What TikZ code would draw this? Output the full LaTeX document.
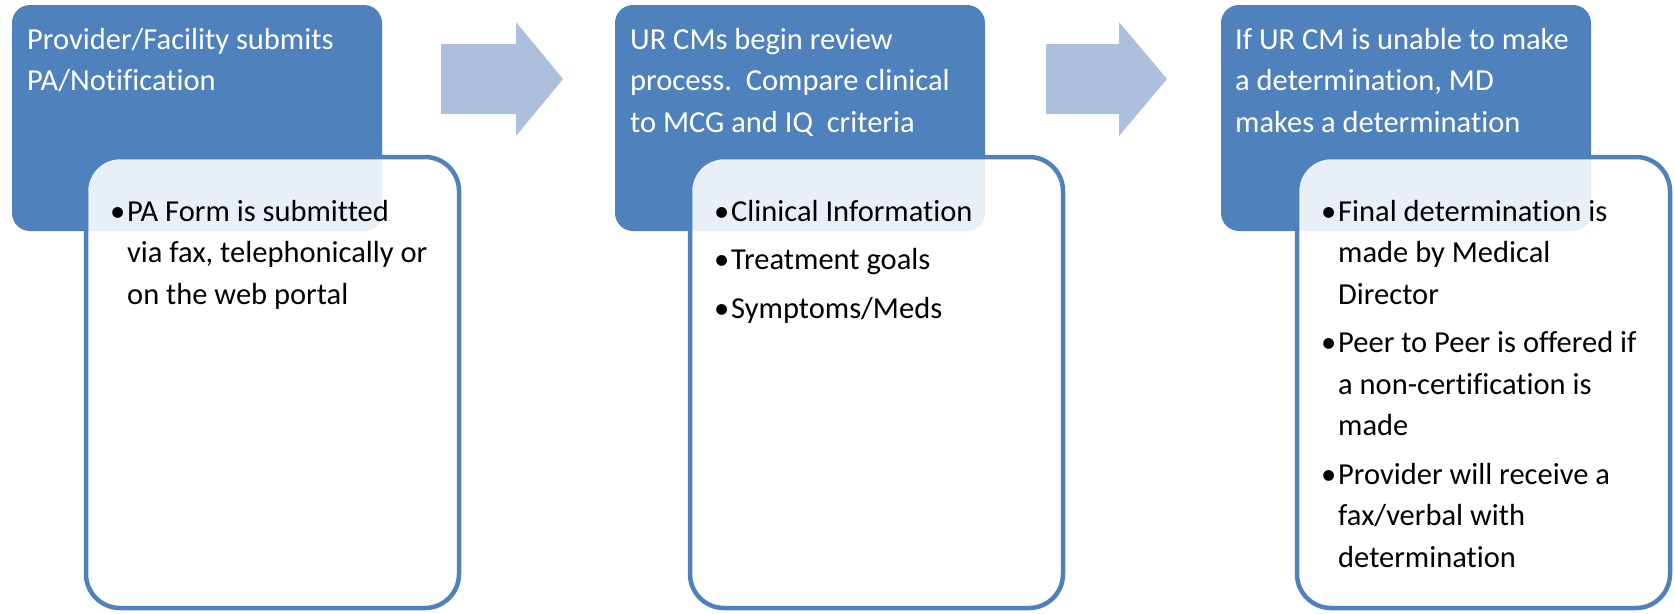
\documentclass[tikz,border=0pt]{standalone}
\usepackage{fontspec}
\setmainfont{Carlito}[Ligatures={NoCommon}]
\definecolor{accent}{RGB}{79,129,189}
\definecolor{arrowblue}{RGB}{172,191,220}
\begin{document}
\begin{tikzpicture}[x=1pt,y=-1pt,
  bluebox/.style={fill=accent, rounded corners=18pt, inner sep=0pt, outer sep=0pt, anchor=north west, minimum width=370pt, minimum height=226pt},
  whitebox/.style={fill=white, fill opacity=0.88, draw=accent, draw opacity=1, line width=4.5pt, rounded corners=34pt, inner sep=0pt, outer sep=0pt, anchor=north west, minimum width=373pt, minimum height=451pt},
  headtxt/.style={text=white, font=\fontsize{30.5}{41.5}\selectfont, inner sep=0pt, anchor=base west},
  bultxt/.style={text=black, font=\fontsize{30.5}{41.5}\selectfont, inner sep=0pt, anchor=base west},
  flowarrow/.style={fill=arrowblue}
]
\useasboundingbox (0,0) rectangle (1675,613);

% blue header boxes
\node[bluebox] (b1) at (12,5) {};
\node[bluebox] (b2) at (615,5) {};
\node[bluebox] (b3) at (1221,5) {};

% block arrows
\fill[flowarrow] (441,44) -- (516,44) -- (516,22) -- (563,79) -- (516,136) -- (516,114) -- (441,114) -- cycle;
\fill[flowarrow] (1046,44) -- (1119,44) -- (1119,22) -- (1167,79) -- (1119,136) -- (1119,114) -- (1046,114) -- cycle;

% header texts
\node[headtxt] (h1a) at (27,49) {Provider/Facility submits};
\node[headtxt] (h1b) at (27,90.5) {PA/Notification};

\node[headtxt] (h2a) at (630,49) {UR CMs begin review};
\node[headtxt] (h2b) at (630,90.5) {process.\ \ Compare clinical};
\node[headtxt] (h2c) at (630,132) {to MCG and IQ\ \ criteria};

\node[headtxt] (h3a) at (1235,49) {If UR CM is unable to make};
\node[headtxt] (h3b) at (1235,90.5) {a determination, MD};
\node[headtxt] (h3c) at (1235,132) {makes a determination};

% white detail boxes
\node[whitebox] (w1) at (86,157) {};
\node[whitebox] (w2) at (690,157) {};
\node[whitebox] (w3) at (1297,157) {};

% bullet texts box 1
\node[bultxt] (p1a) at (127,221) {\llap{•\hspace{2pt}}PA Form is submitted};
\node[bultxt] (p1b) at (127,262.5) {via fax, telephonically or};
\node[bultxt] (p1c) at (127,304) {on the web portal};

% bullet texts box 2
\node[bultxt] (p2a) at (731,221) {\llap{•\hspace{2pt}}Clinical Information};
\node[bultxt] (p2b) at (731,269.5) {\llap{•\hspace{2pt}}Treatment goals};
\node[bultxt] (p2c) at (731,318) {\llap{•\hspace{2pt}}Symptoms/Meds};

% bullet texts box 3
\node[bultxt] (p3a) at (1338,221) {\llap{•\hspace{2pt}}Final determination is};
\node[bultxt] (p3b) at (1338,262.5) {made by Medical};
\node[bultxt] (p3c) at (1338,304) {Director};
\node[bultxt] (p3d) at (1338,352.5) {\llap{•\hspace{2pt}}Peer to Peer is offered if};
\node[bultxt] (p3e) at (1338,394) {a non-certification is};
\node[bultxt] (p3f) at (1338,435.5) {made};
\node[bultxt] (p3g) at (1338,484) {\llap{•\hspace{2pt}}Provider will receive a};
\node[bultxt] (p3h) at (1338,525.5) {fax/verbal with};
\node[bultxt] (p3i) at (1338,567) {determination};
\end{tikzpicture}
\end{document}
